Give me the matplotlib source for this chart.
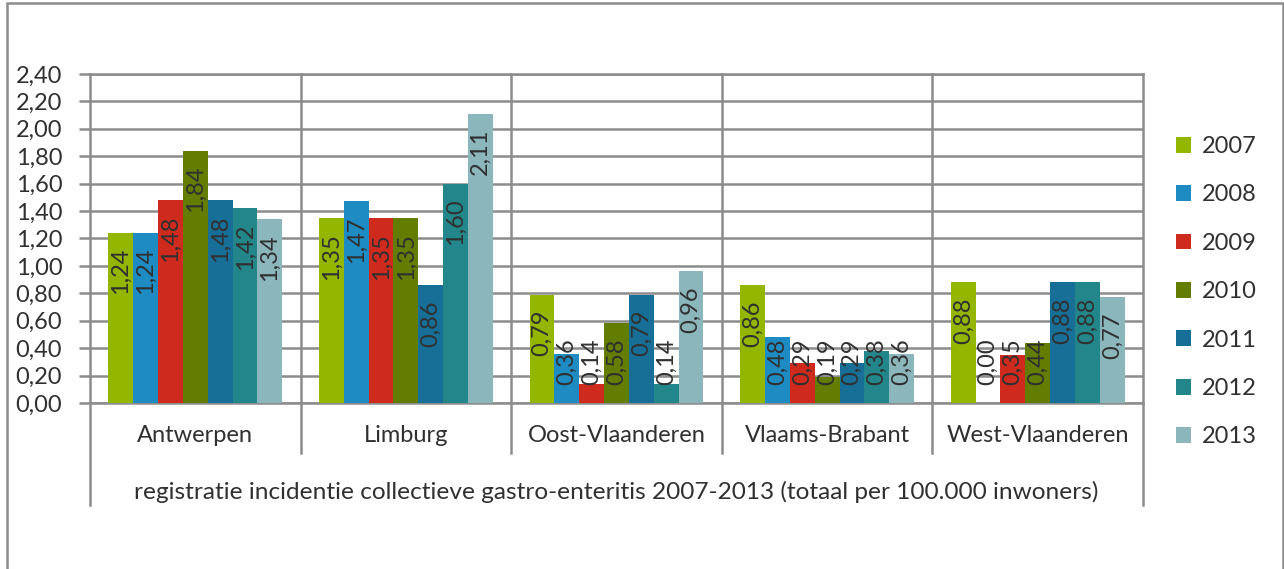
import matplotlib.pyplot as plt
import numpy as np
from matplotlib.patches import Rectangle

plt.rcParams['font.family'] = ['Lato', 'DejaVu Sans']

provincies = ["Antwerpen", "Limburg", "Oost-Vlaanderen", "Vlaams-Brabant", "West-Vlaanderen"]
jaren = ["2007", "2008", "2009", "2010", "2011", "2012", "2013"]
w2007 = [1.24, 1.35, 0.79, 0.86, 0.88]
w2008 = [1.24, 1.47, 0.36, 0.48, 0.00]
w2009 = [1.48, 1.35, 0.14, 0.29, 0.35]
w2010 = [1.84, 1.35, 0.58, 0.19, 0.44]
w2011 = [1.48, 0.86, 0.79, 0.29, 0.88]
w2012 = [1.42, 1.60, 0.14, 0.38, 0.88]
w2013 = [1.34, 2.11, 0.96, 0.36, 0.77]
reeksen = [w2007, w2008, w2009, w2010, w2011, w2012, w2013]
kleuren = ["#93b600", "#1e8bc3", "#cf2a1e", "#637d00", "#176e96", "#23868a", "#8bb6bc"]
xlabel = "registratie incidentie collectieve gastro-enteritis 2007-2013 (totaal per 100.000 inwoners)"

tekst = "#303030"
lijn = "#8c8c8c"
fs = 17

fig = plt.figure(figsize=(12.84, 5.69), dpi=100)
ax = fig.add_axes([90 / 1284, 1 - 403 / 569, (1143 - 90) / 1284, 329 / 569])

# buitenkader
fig.patches.append(Rectangle((7 / 1284, -0.1), (1283 - 7) / 1284, 1.1 - 3 / 569,
                             transform=fig.transFigure, fill=False,
                             edgecolor=lijn, linewidth=1.8))

x = np.arange(len(provincies))
groep = 0.826
bw = groep / len(jaren)
for i, (vals, kl) in enumerate(zip(reeksen, kleuren)):
    pos = x - groep / 2 + bw * (i + 0.5)
    ax.bar(pos, vals, width=bw, color=kl, edgecolor="none", label=jaren[i], zorder=3)
    for p, v in zip(pos, vals):
        lab = f"{v:.2f}".replace(".", ",")
        # label binnen het einde van de staaf, niet lager dan vlak boven de basis
        ax.text(p, max(v - 0.11, 0.47), lab, rotation=90, ha="center", va="top",
                fontsize=fs, color=tekst, zorder=4)

ax.set_xlim(-0.5, len(provincies) - 0.5)
ax.set_ylim(0, 2.4)
ticks = np.arange(0, 2.41, 0.2)
ax.set_yticks(ticks)
ax.set_yticklabels([f"{t:.2f}".replace(".", ",") for t in ticks])
ax.tick_params(axis="y", length=8, width=1.8, color=lijn, labelsize=fs,
               labelcolor=tekst, pad=12)
ax.tick_params(axis="x", length=0, labelbottom=False)
ax.grid(axis="y", color=lijn, linewidth=1.8, zorder=0)
for s in ax.spines.values():
    s.set_color(lijn)
    s.set_linewidth(1.8)

# verticale scheidingslijnen tussen provincies
trans = ax.get_xaxis_transform()
for b in np.arange(0.5, len(provincies) - 0.5):
    ax.plot([b, b], [-0.153, 1], transform=trans, color=lijn, linewidth=1.8,
            clip_on=False, zorder=1)
for b in [-0.5, len(provincies) - 0.5]:
    ax.plot([b, b], [-0.31, 0], transform=trans, color=lijn, linewidth=1.8,
            clip_on=False, zorder=1)

for xi, naam in zip(x, provincies):
    ax.text(xi, -0.1, naam, transform=trans, ha="center", va="center",
            fontsize=fs, color=tekst)
ax.text((len(provincies) - 1) / 2, -0.27, xlabel, transform=trans, ha="center",
        va="center", fontsize=17.6, color=tekst)

leg = ax.legend(loc="upper left", bbox_to_anchor=(1.022, 0.84),
                frameon=False, fontsize=fs, handlelength=0.65, handleheight=0.65,
                handletextpad=0.45, labelspacing=1.16, borderaxespad=0)
for t in leg.get_texts():
    t.set_color(tekst)

fig.savefig("out.png", dpi=100)
